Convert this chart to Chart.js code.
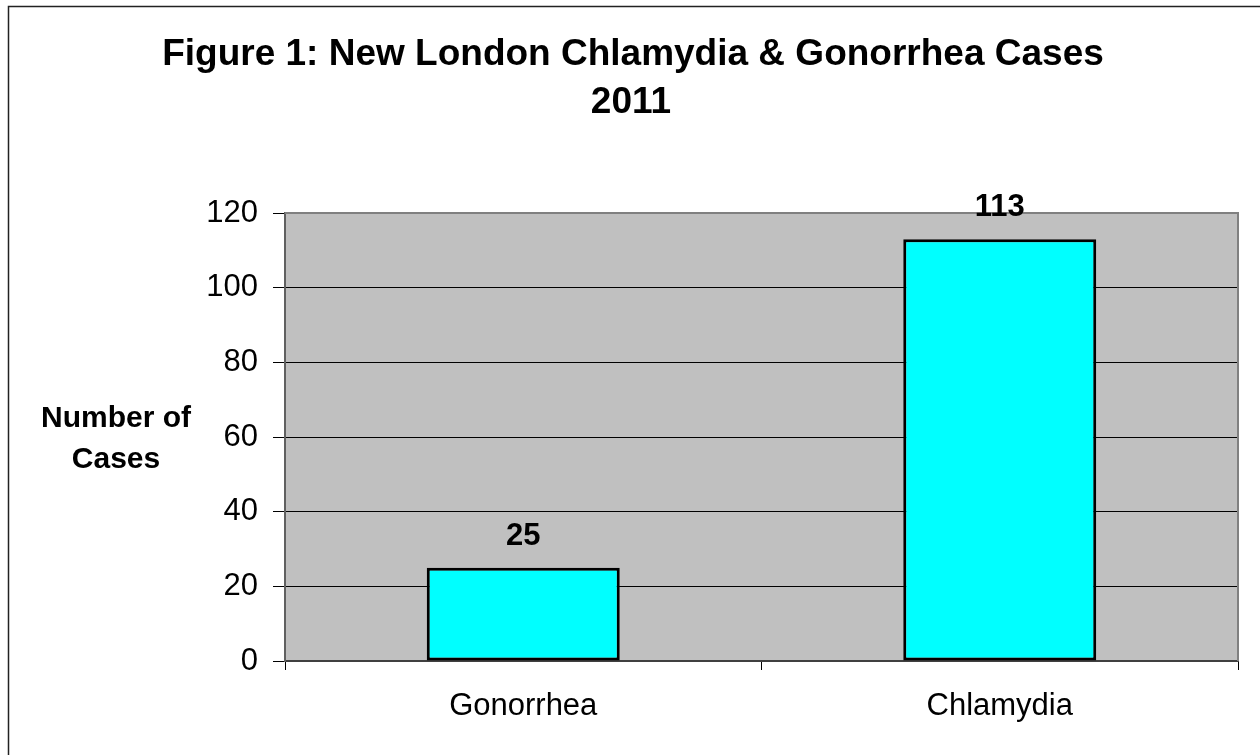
<!DOCTYPE html>
<html>
<head>
<meta charset="utf-8">
<title>New London Chlamydia & Gonorrhea Cases 2011</title>
<script src="https://cdn.jsdelivr.net/npm/chart.js@4"></script>
<style>
  html, body { margin: 0; padding: 0; background: #fff; }
  #wrap { width: 1260px; height: 755px; position: relative; }
</style>
</head>
<body>
<div id="wrap"><canvas id="casesChart" width="1260" height="755"></canvas></div>
<script>
/* ── Data ─────────────────────────────────────────────── */
var categories = ['Gonorrhea', 'Chlamydia'];
var caseCounts = [25, 113];
var yTicks = [0, 20, 40, 60, 80, 100, 120];
var titleLines = ['Figure 1: New London Chlamydia & Gonorrhea Cases', '2011'];
var yTitleLines = ['Number of', 'Cases'];

var FONT = '"Liberation Sans", Arial, Helvetica, sans-serif';

/* ── Background, plot frame, titles, value labels ─────── */
var decorPlugin = {
  id: 'decor',
  beforeDraw: function(chart) {
    var ctx = chart.ctx, a = chart.chartArea;
    ctx.save();
    ctx.fillStyle = '#fff';
    ctx.fillRect(0, 0, chart.width, chart.height);
    // outer frame (cut off right / bottom in the original)
    ctx.strokeStyle = '#222';
    ctx.lineWidth = 1.5;
    ctx.beginPath();
    ctx.moveTo(8.5, chart.height + 2);
    ctx.lineTo(8.5, 6.5);
    ctx.lineTo(chart.width + 2, 6.5);
    ctx.stroke();
    // plot area
    ctx.fillStyle = '#c0c0c0';
    ctx.fillRect(a.left, a.top, a.right - a.left, a.bottom - a.top);
    ctx.restore();
  },
  afterDraw: function(chart) {
    var ctx = chart.ctx, a = chart.chartArea;
    ctx.save();
    // grey plot border top / right
    ctx.strokeStyle = '#808080';
    ctx.lineWidth = 2;
    ctx.beginPath();
    ctx.moveTo(a.left, a.top);
    ctx.lineTo(a.right, a.top);
    ctx.lineTo(a.right, a.bottom);
    ctx.stroke();

    // chart title
    ctx.fillStyle = '#000';
    ctx.textAlign = 'center';
    ctx.textBaseline = 'alphabetic';
    ctx.font = 'bold 37px ' + FONT;
    ctx.fillText(titleLines[0], 633, 65);
    ctx.fillText(titleLines[1], 631, 113);

    // y axis title (horizontal, two lines)
    ctx.font = 'bold 30px ' + FONT;
    ctx.fillText(yTitleLines[0], 116, 427);
    ctx.fillText(yTitleLines[1], 116, 468);

    // value labels above bars
    ctx.font = 'bold 31px ' + FONT;
    var meta = chart.getDatasetMeta(0);
    meta.data.forEach(function(bar, i) {
      ctx.fillText(String(caseCounts[i]), bar.x, bar.y - 23);
    });
    ctx.restore();
  }
};

new Chart(document.getElementById('casesChart'), {
  type: 'bar',
  data: {
    labels: categories,
    datasets: [{
      data: caseCounts,
      backgroundColor: '#00ffff',
      borderColor: '#000',
      borderWidth: 3,
      borderSkipped: false,
      barPercentage: 0.405,
      categoryPercentage: 1
    }]
  },
  options: {
    responsive: false,
    animation: false,
    devicePixelRatio: 1,
    layout: { padding: { top: 213, right: 22, bottom: 0, left: 0 } },
    plugins: {
      legend: { display: false },
      title: { display: false },
      tooltip: { enabled: false }
    },
    scales: {
      x: {
        offset: true,
        grid: {
          display: true, offset: true, drawOnChartArea: false,
          drawTicks: true, tickLength: 9, color: '#000', lineWidth: 1
        },
        border: { display: true, color: '#404040', width: 2 },
        ticks: { color: '#000', padding: 18, font: { family: FONT, size: 31 } },
        afterFit: function(scale) { scale.height = 94; }
      },
      y: {
        min: 0, max: 120,
        afterBuildTicks: function(scale) {
          scale.ticks = yTicks.map(function(v) { return { value: v }; });
        },
        grid: { color: '#000', lineWidth: 1, tickLength: 12, drawTicks: true },
        border: { display: true, color: '#606060', width: 2 },
        ticks: { color: '#000', padding: 15, font: { family: FONT, size: 31 } },
        afterFit: function(scale) { scale.width = 285; }
      }
    }
  },
  plugins: [decorPlugin]
});
</script>
</body>
</html>
